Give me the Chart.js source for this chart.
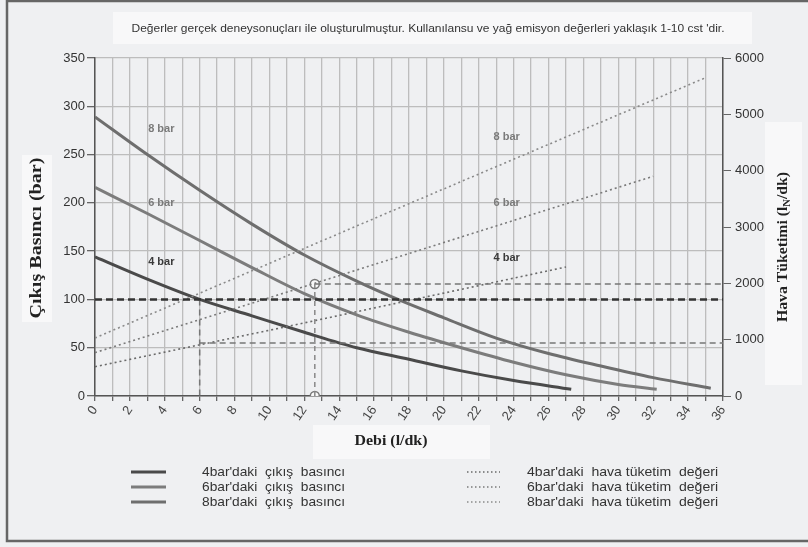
<!DOCTYPE html>
<html>
<head>
<meta charset="utf-8">
<script src="https://cdn.jsdelivr.net/npm/chart.js@4.4.1/dist/chart.umd.min.js"></script>
<style>
html,body{margin:0;padding:0;background:#eff0f2;}
canvas{display:block;}
</style>
</head>
<body>
<canvas id="c" width="808" height="547"></canvas>
<script>
// ---- Data ----
const titleText = "Değerler gerçek deneysonuçları ile oluşturulmuştur. Kullanılansu ve yağ emisyon değerleri yaklaşık 1-10 cst 'dir.";
const xTitle = "Debi (l/dk)";
const yTitle = "Çıkış Basıncı (bar)";

// Outlet pressure curves (left axis, bar)
const x4 = [0, 3, 6, 9, 12, 15, 18, 21, 24, 27.3];
const p4 = [144, 121, 100, 83, 66, 50, 38, 26, 16, 7];
const x6 = [0, 3, 6, 9, 12, 15, 18, 21, 24, 27, 30, 32.2];
const p6 = [216, 189, 161, 133, 106, 84, 66, 50, 35, 22, 12, 7];
const x8 = [0, 3, 6, 9, 12, 15, 17.5, 20, 23, 26, 29, 32, 35.3];
const p8 = [289, 250, 213, 178, 146, 119, 99, 81, 60, 44, 31, 19, 8];

// Air consumption (right axis, lN/dk)
const hx4 = [0, 11.2, 27];
const h4 = [520, 1245, 2290];
const hx6 = [0, 10.6, 32];
const h6 = [770, 1805, 3900];
const hx8 = [0, 16.3, 35];
const h8 = [1030, 3190, 5650];

// Reading guides
const g100x = [0, 36], g100y = [100, 100];          // left axis
const gV6x = [6, 6], gV6y = [100, 0];               // left axis
const gH4x = [6, 36], gH4y = [940, 940];            // right axis
const gV13x = [12.6, 12.6], gV13y = [0, 116];       // left axis
const gH6x = [12.6, 36], gH6y = [1990, 1990];       // right axis
const circX = [12.6, 12.6], circY = [0, 116];       // left axis

const legendLeft = ["4bar'daki  çıkış  basıncı", "6bar'daki  çıkış  basıncı", "8bar'daki  çıkış  basıncı"];
const legendRight = ["4bar'daki  hava tüketim  değeri", "6bar'daki  hava tüketim  değeri", "8bar'daki  hava tüketim  değeri"];

const C4 = '#4a4a4a', C6 = '#7c7c7c', C8 = '#6e6e6e';
const D4 = '#6a6a6a', D6 = '#7a7a7a', D8 = '#8a8a8a';

const pts = (xs, ys) => xs.map((v, i) => ({x: v, y: ys[i]}));

function solid(label, xs, ys, col) {
  return {label, data: pts(xs, ys), yAxisID: 'y', borderColor: col, borderWidth: 3,
    pointRadius: 0, tension: 0.4, cubicInterpolationMode: 'monotone', fill: false};
}
function dotted(label, xs, ys, col) {
  return {label, data: pts(xs, ys), yAxisID: 'y2', borderColor: col, borderWidth: 1.6,
    borderDash: [2, 3], pointRadius: 0, fill: false};
}
function guide(xs, ys, axis, col, w, dash) {
  return {label: 'g', data: pts(xs, ys), yAxisID: axis, borderColor: col, borderWidth: w,
    borderDash: dash, pointRadius: 0, fill: false};
}

const labelPlugin = {
  id: 'deco',
  beforeDraw(chart) {
    const ctx = chart.ctx;
    ctx.save();
    ctx.fillStyle = '#eff0f2';
    ctx.fillRect(0, 0, 808, 547);
    ctx.strokeStyle = '#666';
    ctx.lineWidth = 2.5;
    ctx.beginPath();
    ctx.moveTo(808, 1); ctx.lineTo(7, 1); ctx.lineTo(7, 541); ctx.lineTo(808, 541);
    ctx.stroke();
    ctx.fillStyle = '#f8f8f9';
    ctx.fillRect(113, 12, 639, 32);
    ctx.fillRect(22, 155, 30, 167);
    ctx.fillRect(765, 122, 37, 263);
    ctx.fillRect(313, 425, 177, 34);
    ctx.restore();
  },
  afterDraw(chart) {
    const ctx = chart.ctx;
    const xs = chart.scales.x, ys = chart.scales.y, y2 = chart.scales.y2;
    ctx.save();
    ctx.fillStyle = '#333';
    ctx.font = '11px "Liberation Sans", Arial, sans-serif';
    fitText(ctx, titleText, 428, 29, 593);
    ctx.fillStyle = '#222';
    ctx.font = 'bold 15px "Liberation Serif", "Times New Roman", serif';
    fitText(ctx, xTitle, 391, 441, 73);
    ctx.save();
    ctx.translate(37, 238); ctx.rotate(-Math.PI / 2);
    ctx.font = 'bold 16px "Liberation Serif", "Times New Roman", serif';
    fitText(ctx, yTitle, 0, 0, 161);
    ctx.restore();
    ctx.save();
    ctx.translate(783, 247); ctx.rotate(-Math.PI / 2);
    ctx.font = 'bold 15px "Liberation Serif", "Times New Roman", serif';
    const a = 'Hava Tüketimi (l', b = 'N', c = '/dk)';
    ctx.textAlign = 'left'; ctx.textBaseline = 'middle';
    const wa = ctx.measureText(a).width, wc = ctx.measureText(c).width;
    ctx.font = 'bold 10px "Liberation Serif", serif';
    const wb = ctx.measureText(b).width;
    const tot = wa + wb + wc;
    ctx.scale(150 / tot, 1);
    const x0 = -tot / 2;
    ctx.font = 'bold 15px "Liberation Serif", "Times New Roman", serif';
    ctx.fillText(a, x0, 0);
    ctx.font = 'bold 10px "Liberation Serif", serif';
    ctx.fillText(b, x0 + wa, 4);
    ctx.font = 'bold 15px "Liberation Serif", "Times New Roman", serif';
    ctx.fillText(c, x0 + wa + wb, 0);
    ctx.restore();

    ctx.font = 'bold 11px "Liberation Sans", Arial, sans-serif';
    ctx.textAlign = 'center'; ctx.textBaseline = 'middle';
    const L = [['8 bar', 3.8, 277, 'y', '#7a7a7a'], ['6 bar', 3.8, 200, 'y', '#7a7a7a'], ['4 bar', 3.8, 139, 'y', '#3a3a3a'],
               ['8 bar', 23.6, 4598, 'y2', '#7a7a7a'], ['6 bar', 23.6, 3426, 'y2', '#7a7a7a'], ['4 bar', 23.6, 2450, 'y2', '#3a3a3a']];
    L.forEach(l => {
      ctx.fillStyle = l[4];
      const sy = l[3] === 'y' ? ys : y2;
      ctx.fillText(l[0], xs.getPixelForValue(l[1]), sy.getPixelForValue(l[2]));
    });

    const rows = [472, 487, 502];
    const sc2 = [C4, C6, C8], dc = [D4, D6, D8];
    ctx.font = '13px "Liberation Sans", Arial, sans-serif';
    rows.forEach((ry, i) => {
      ctx.strokeStyle = sc2[i]; ctx.lineWidth = 3; ctx.setLineDash([]);
      ctx.beginPath(); ctx.moveTo(131, ry); ctx.lineTo(166, ry); ctx.stroke();
      ctx.strokeStyle = dc[i]; ctx.lineWidth = 1.6; ctx.setLineDash([1.5, 2.5]);
      ctx.beginPath(); ctx.moveTo(467, ry); ctx.lineTo(500, ry); ctx.stroke();
      ctx.setLineDash([]);
      ctx.fillStyle = '#333';
      fitTextLeft(ctx, legendLeft[i], 202, ry, 143);
      fitTextLeft(ctx, legendRight[i], 527, ry, 191);
    });
    ctx.restore();
  }
};

function fitText(ctx, t, x, y, w) {
  const m = ctx.measureText(t).width;
  ctx.save();
  ctx.translate(x, y);
  ctx.scale(w / m, 1);
  ctx.textAlign = 'center'; ctx.textBaseline = 'middle';
  ctx.fillText(t, 0, 0);
  ctx.restore();
}
function fitTextLeft(ctx, t, x, y, w) {
  const m = ctx.measureText(t).width;
  ctx.save();
  ctx.translate(x, y);
  ctx.scale(w / m, 1);
  ctx.textAlign = 'left'; ctx.textBaseline = 'middle';
  ctx.fillText(t, 0, 0);
  ctx.restore();
}

new Chart(document.getElementById('c'), {
  type: 'line',
  data: {
    datasets: [
      guide(g100x, g100y, 'y', '#333', 2.5, [7, 4]),
      guide(gV6x, gV6y, 'y', '#777', 1.5, [6, 4]),
      guide(gH4x, gH4y, 'y2', '#777', 1.5, [6, 4]),
      guide(gV13x, gV13y, 'y', '#888', 1.5, [5, 4]),
      guide(gH6x, gH6y, 'y2', '#777', 1.5, [6, 4]),
      dotted("4bar'daki hava tüketim değeri", hx4, h4, D4),
      dotted("6bar'daki hava tüketim değeri", hx6, h6, D6),
      dotted("8bar'daki hava tüketim değeri", hx8, h8, D8),
      solid("4bar'daki çıkış basıncı", x4, p4, C4),
      solid("6bar'daki çıkış basıncı", x6, p6, C6),
      solid("8bar'daki çıkış basıncı", x8, p8, C8),
      {label: 'c', data: pts(circX, circY), yAxisID: 'y', showLine: false, pointRadius: 4.5,
       pointBackgroundColor: '#f8f8f8', pointBorderColor: '#777', pointBorderWidth: 1.5}
    ]
  },
  options: {
    responsive: false,
    animation: false,
    events: [],
    layout: {padding: {top: 58, left: 0, right: 0, bottom: 0}},
    plugins: {legend: {display: false}, tooltip: {enabled: false}, title: {display: false}},
    scales: {
      x: {
        type: 'linear', min: 0, max: 36,
        afterFit: s => { s.height = 151; },
        ticks: {stepSize: 1, autoSkip: false, maxRotation: 55, minRotation: 55, padding: 2,
          color: '#444', font: {size: 13, family: '"Liberation Sans", Arial, sans-serif'},
          callback: v => (v % 2 === 0 ? String(v) : '')},
        grid: {color: '#bdbdbd', lineWidth: 1.3, tickLength: 5, tickColor: '#666'},
        border: {color: '#555', width: 1.5}
      },
      y: {
        position: 'left', min: 0, max: 350,
        afterFit: s => { s.width = 95; },
        ticks: {stepSize: 50, padding: 2, color: '#333', font: {size: 13, family: '"Liberation Sans", Arial, sans-serif'},
          callback: v => String(v)},
        grid: {color: '#bdbdbd', lineWidth: 1.3, tickLength: 8, tickColor: '#666'},
        border: {color: '#555', width: 1.5}
      },
      y2: {
        position: 'right', min: 0, max: 6000,
        afterFit: s => { s.width = 85; },
        ticks: {stepSize: 1000, padding: 4, color: '#333', font: {size: 13, family: '"Liberation Sans", Arial, sans-serif'},
          callback: v => String(v)},
        grid: {drawOnChartArea: false, tickLength: 8, tickColor: '#666'},
        border: {color: '#555', width: 1.5}
      }
    }
  },
  plugins: [labelPlugin]
});
</script>
</body>
</html>
